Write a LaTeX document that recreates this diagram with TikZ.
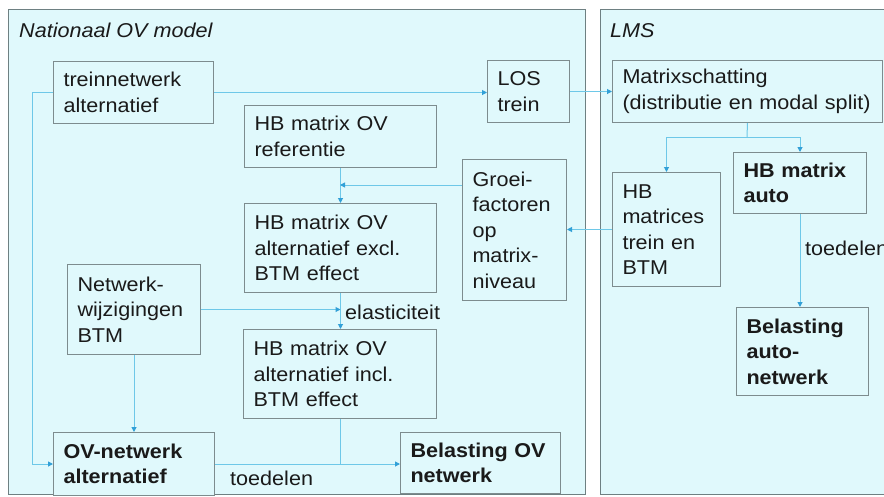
\documentclass[tikz,border=0pt]{standalone}
\usepackage{fontspec}
\setmainfont{Liberation Sans}[FakeStretch=1.08]
\usetikzlibrary{arrows.meta}
\definecolor{panelfill}{RGB}{224,249,252}
\definecolor{panelline}{RGB}{110,128,130}
\definecolor{boxline}{RGB}{125,140,142}
\definecolor{linkblue}{RGB}{110,200,232}
\definecolor{tipblue}{RGB}{50,160,215}
\definecolor{inktext}{RGB}{26,26,26}

\begin{document}
\begin{tikzpicture}[x=1pt, y=-1pt,
    panel/.style={draw=panelline, fill=panelfill, line width=1pt, anchor=north west, inner sep=0pt},
    box/.style={draw=boxline, fill=panelfill, line width=1pt, anchor=north west, align=left,
        inner xsep=10pt, inner ysep=0pt, text=inktext, font=\fontsize{20}{25.5}\selectfont},
    boldbox/.style={box, font=\fontsize{20}{25.5}\selectfont\bfseries},
    paneltitle/.style={anchor=base west, inner sep=0pt, text=inktext, font=\fontsize{20}{24}\selectfont\itshape},
    edgetext/.style={anchor=west, inner sep=0pt, text=inktext, font=\fontsize{20}{24}\selectfont},
    link/.style={draw=linkblue, line width=1pt},
    arrow/.style={link, -{Triangle[length=5pt, width=5pt, color=tipblue]}}]

    \useasboundingbox (0,0) rectangle (884,496);
    \fill[white] (0,0) rectangle (884,496);

    % Panels
    \node[panel, minimum width=577pt, minimum height=485pt] (ovpanel) at (8,9) {};
    \node[panel, minimum width=292pt, minimum height=485pt] (lmspanel) at (600,9) {};
    \node[paneltitle] (ovtitle) at (19,37) {Nationaal OV model};
    \node[paneltitle] (lmstitle) at (610,37) {LMS};

    % Nationaal OV model
    \node[box, text width=140pt, minimum height=62pt] (treinnet) at (53,61) {treinnetwerk\\alternatief};
    \node[box, text width=62pt, minimum height=62pt] (los) at (487,60) {LOS\\trein};
    \node[box, text width=172pt, minimum height=62pt] (hbref) at (244,105) {HB matrix OV\\referentie};
    \node[box, text width=84pt, minimum height=141pt] (groei) at (462,159) {Groei-\\factoren\\op\\matrix-\\niveau};
    \node[box, text width=172pt, minimum height=89pt] (hbexcl) at (244,203) {HB matrix OV\\alternatief excl.\\BTM effect};
    \node[box, text width=113pt, minimum height=90pt] (netwerk) at (67,264) {Netwerk-\\wijzigingen\\BTM};
    \node[box, text width=173pt, minimum height=89pt] (hbincl) at (243,329) {HB matrix OV\\alternatief incl.\\BTM effect};
    \node[boldbox, text width=141pt, minimum height=63pt] (ovnet) at (53,432) {OV-netwerk\\alternatief};
    \node[boldbox, text width=140pt, minimum height=61pt] (belov) at (400,432) {Belasting OV\\netwerk};

    % LMS
    \node[box, text width=250pt, minimum height=62pt] (matrix) at (612,60) {Matrixschatting\\(distributie en modal split)};
    \node[box, text width=88pt, minimum height=114pt] (hbtrein) at (612,172) {HB\\matrices\\trein en\\BTM};
    \node[boldbox, text width=113pt, minimum height=61pt] (hbauto) at (733,152) {HB matrix\\auto};
    \node[boldbox, text width=112pt, minimum height=88pt] (belauto) at (736,307) {Belasting\\auto-\\netwerk};

    % Connectors
    \coordinate (split) at (747,137);
    \coordinate (groeijoin) at (340,185);

    \draw[arrow] (treinnet.east) -- (treinnet.east -| los.west);
    \draw[arrow] (los.east) -- (los.east -| matrix.west);
    \draw[arrow] (treinnet.west) -- ++(-21,0) |- (ovnet.west);
    \draw[link] (matrix.south) -- (split);
    \draw[arrow] (split) -| (hbtrein.north);
    \draw[arrow] (split) -| (hbauto.north);
    \draw[arrow] (hbauto.south) -- (hbauto.south |- belauto.north);
    \draw[arrow] (hbtrein.west) -- (hbtrein.west -| groei.east);
    \draw[arrow] (hbref.south) -- (hbexcl.north);
    \draw[arrow] (groeijoin -| groei.west) -- (groeijoin);
    \draw[arrow] (hbexcl.south) -- (hbexcl.south |- hbincl.north);
    \draw[arrow] (netwerk.east) -- (netwerk.east -| hbexcl.south);
    \draw[arrow] (netwerk.south) -- (netwerk.south |- ovnet.north);
    \draw[arrow] (ovnet.east) -- (ovnet.east -| belov.west);
    \draw[link] (hbincl.south) -- (hbincl.south |- ovnet.east);

    % Connector texts
    \node[edgetext] (elastic) at (345,312) {elasticiteit};
    \node[edgetext] (toedelenov) at (230,478) {toedelen};
    \node[edgetext] (toedelenauto) at (805,248) {toedelen};
\end{tikzpicture}
\end{document}
